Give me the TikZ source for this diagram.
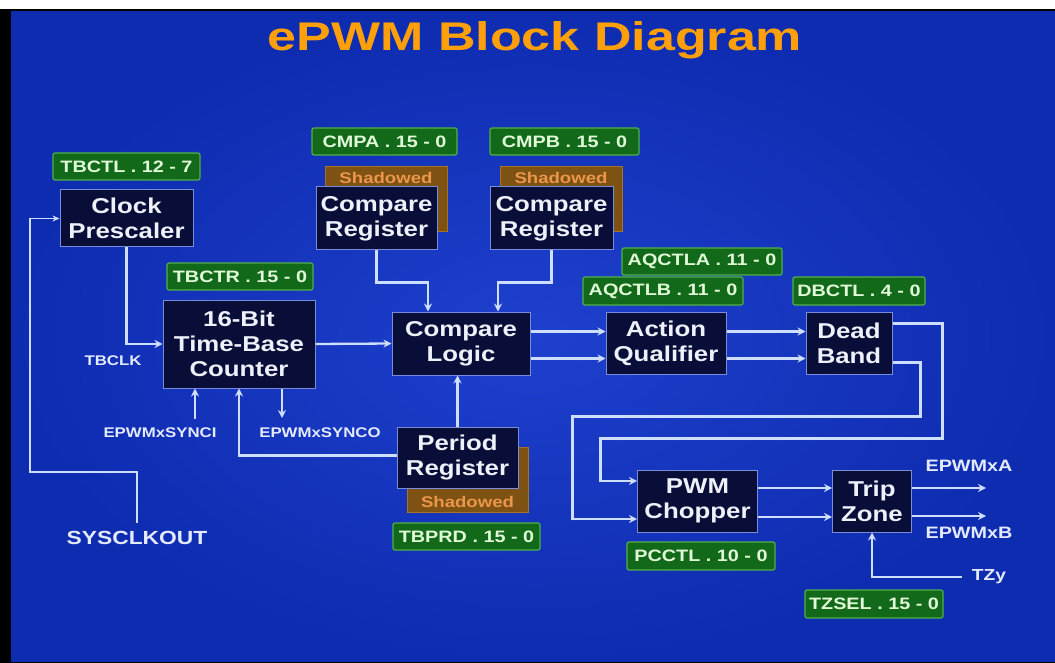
\documentclass[tikz,border=0pt]{standalone}
\usepackage{fontspec}
\setmainfont{Liberation Sans}[FakeStretch=1.2]
\newfontfamily\titlefont{Liberation Sans}[FakeStretch=1.3]
\usetikzlibrary{arrows.meta}
\definecolor{bgin}{RGB}{30,64,205}
\definecolor{bgout}{RGB}{14,44,176}
\definecolor{boxfill}{RGB}{8,14,55}
\definecolor{boxline}{RGB}{120,140,220}
\definecolor{gfill}{RGB}{18,105,25}
\definecolor{gline}{RGB}{80,175,70}
\definecolor{gtext}{RGB}{225,250,215}
\definecolor{shfill}{RGB}{125,82,18}
\definecolor{shline}{RGB}{165,115,35}
\definecolor{shtext}{RGB}{235,150,75}
\definecolor{wirec}{RGB}{205,222,255}
\definecolor{lblc}{RGB}{228,234,255}
\definecolor{titlec}{RGB}{255,160,10}
\begin{document}
\begin{tikzpicture}[x=1pt,y=-1pt,
  blk/.style={draw=boxline, line width=1pt, fill=boxfill, text={rgb,255:red,238;green,240;blue,250}, align=center, inner sep=0pt, font=\bfseries\fontsize{21.5}{25}\selectfont},
  reg/.style={draw=gline, line width=1.2pt, fill=gfill, text=gtext, rounded corners=2pt, inner sep=0pt, font=\bfseries\fontsize{16.5}{18}\selectfont},
  shd/.style={draw=shline, line width=1pt, fill=shfill, inner sep=0pt},
  shlbl/.style={text=shtext, inner sep=0pt, font=\bfseries\fontsize{15.5}{16}\selectfont},
  wire/.style={draw=wirec, line width=2.3pt},
  arr/.style={wire, -{Stealth[length=8pt,width=8pt]}},
  thinarr/.style={draw=wirec, line width=1.6pt, -{Stealth[length=7pt,width=6pt]}},
  lbl/.style={text=lblc, inner sep=0pt, font=\bfseries\fontsize{14}{15}\selectfont},
]
% frame and background
\fill[white] (0,0) rectangle (1055,663);
\fill[black] (0,9) rectangle (1055,663);
\shade[inner color=bgin, outer color=bgout] (11,12) rectangle (1055,661);
\useasboundingbox (0,0) rectangle (1055,663);

% title
\node[text=titlec, font=\titlefont\bfseries\fontsize{40}{42}\selectfont, inner sep=0pt] (title) at (535,40) {ePWM Block Diagram};

% shadow boxes
\node[shd, minimum width=122pt, minimum height=65pt] (sha) at (386,199.5) {};
\node[shlbl] (shat) at (386,178) {Shadowed};
\node[shd, minimum width=122pt, minimum height=65pt] (shb) at (561,199.5) {};
\node[shlbl] (shbt) at (561,178) {Shadowed};
\node[shd, minimum width=121pt, minimum height=65pt] (shp) at (467.5,479.5) {};
\node[shlbl] (shpt) at (467.5,502) {Shadowed};

% main blocks
\node[blk, minimum width=133pt, minimum height=57pt] (clk) at (126.5,218.5) {Clock\\Prescaler};
\node[blk, minimum width=152pt, minimum height=88pt] (tb) at (239,344) {16-Bit\\Time-Base\\Counter};
\node[blk, minimum width=121pt, minimum height=63pt] (cra) at (376.5,218.5) {Compare\\Register};
\node[blk, minimum width=123pt, minimum height=63pt] (crb) at (551.5,218.5) {Compare\\Register};
\node[blk, minimum width=138pt, minimum height=63pt] (cl) at (461,343.5) {Compare\\Logic};
\node[blk, minimum width=120pt, minimum height=62pt] (aq) at (666,343.5) {Action\\Qualifier};
\node[blk, minimum width=86pt, minimum height=62pt] (db) at (849,343.5) {Dead\\Band};
\node[blk, minimum width=121pt, minimum height=61pt] (pr) at (457.5,457.5) {Period\\Register};
\node[blk, minimum width=120pt, minimum height=62pt] (pc) at (697.5,501) {PWM\\Chopper};
\node[blk, minimum width=79pt, minimum height=62pt] (tz) at (872,501) {Trip\\Zone};

% register labels
\node[reg, minimum width=147pt, minimum height=27pt] (tbctl) at (126.5,166.5) {TBCTL . 12 - 7};
\node[reg, minimum width=146pt, minimum height=27pt] (tbctr) at (240,276.5) {TBCTR . 15 - 0};
\node[reg, minimum width=145pt, minimum height=27pt] (cmpa) at (384.5,141.5) {CMPA . 15 - 0};
\node[reg, minimum width=149pt, minimum height=27pt] (cmpb) at (564.5,141.5) {CMPB . 15 - 0};
\node[reg, minimum width=160pt, minimum height=27pt] (aqa) at (702,261.5) {AQCTLA . 11 - 0};
\node[reg, minimum width=160pt, minimum height=28pt] (aqb) at (663,291) {AQCTLB . 11 - 0};
\node[reg, minimum width=132pt, minimum height=28pt] (dbctl) at (859,291) {DBCTL . 4 - 0};
\node[reg, minimum width=147pt, minimum height=27pt] (tbprd) at (466.5,536.5) {TBPRD . 15 - 0};
\node[reg, minimum width=148pt, minimum height=28pt] (pcctl) at (701,556) {PCCTL . 10 - 0};
\node[reg, minimum width=138pt, minimum height=28pt] (tzsel) at (874,604) {TZSEL . 15 - 0};

% free labels
\node[lbl] (tbclk) at (113,361) {TBCLK};
\node[lbl] (synci) at (160,433) {EPWMxSYNCI};
\node[lbl] (synco) at (320,433) {EPWMxSYNCO};
\node[lbl, font=\bfseries\fontsize{19}{20}\selectfont] (sysclk) at (137,538) {SYSCLKOUT};
\node[lbl, font=\bfseries\fontsize{16.5}{17}\selectfont] (outAl) at (969,466) {EPWMxA};
\node[lbl, font=\bfseries\fontsize{16.5}{17}\selectfont] (outBl) at (969,533) {EPWMxB};
\node[lbl, font=\bfseries\fontsize{16}{17}\selectfont] (tzyl) at (989,577) {TZy};

% free connector ends
\coordinate (sc) at (30,472);
\coordinate (si) at (195,419);
\coordinate (so) at (282,418);
\coordinate (outA) at (986,488);
\coordinate (outB) at (986,516);
\coordinate (tzin) at (962,577);

% connectors
\draw[arr] (clk.south) |- (tb.west);
\draw[thinarr] ([yshift=8pt]sysclk.north) |- (sc) |- (clk.west);
\draw[arr] (tb.east) -- (cl.west);
\draw[arr] (cra.south) -- ++(0,32) -| ([xshift=-33pt]cl.north);
\draw[arr] (crb.south) -- ++(0,32) -| ([xshift=37pt]cl.north);
\draw[arr] ([yshift=12pt]cl.east) -- ([yshift=12pt]cl.east -| aq.west);
\draw[arr] ([yshift=-15pt]cl.east) -- ([yshift=-15pt]cl.east -| aq.west);
\draw[arr] ([yshift=12pt]aq.east) -- ([yshift=12pt]aq.east -| db.west);
\draw[arr] ([yshift=-15pt]aq.east) -- ([yshift=-15pt]aq.east -| db.west);
\draw[arr] ([yshift=20pt]db.east) -- ++(50,0) -- ++(0,115) -- ++(-342,0) |- ([yshift=20pt]pc.west);
\draw[arr] ([yshift=-19pt]db.east) -- ++(28,0) -- ++(0,54) -- ++(-348,0) |- ([yshift=-18pt]pc.west);
\draw[arr] ([yshift=13pt]pc.east) -- ([yshift=13pt]pc.east -| tz.west);
\draw[arr] ([yshift=-16pt]pc.east) -- ([yshift=-16pt]pc.east -| tz.west);
\draw[arr] ([yshift=13pt]tz.east) -- (outA);
\draw[arr] ([yshift=-15pt]tz.east) -- (outB);
\draw[arr] (tzin) -| (tz.south);
\draw[arr] (si) -- (si |- tb.south);
\draw[arr] (so |- tb.south) -- (so);
\draw[arr] ([yshift=2pt]pr.west) -| (tb.south);
\draw[arr] (pr.north) -- (pr.north |- cl.south);
\end{tikzpicture}
\end{document}
